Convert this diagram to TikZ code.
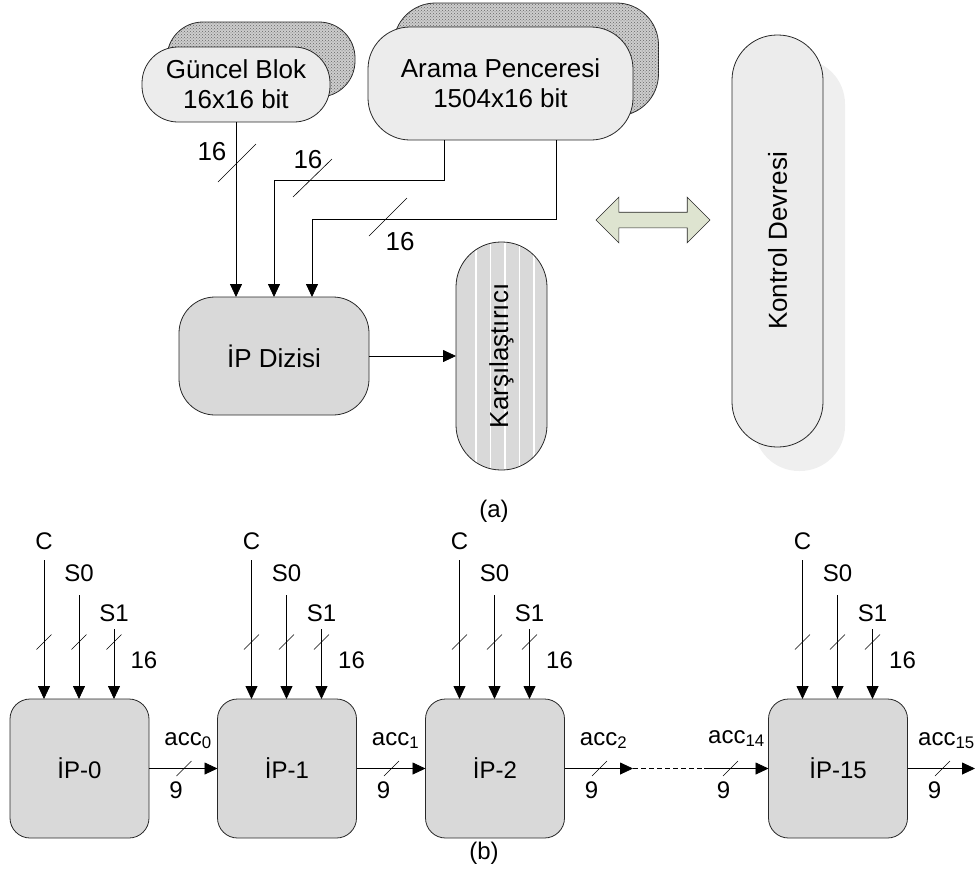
\documentclass[tikz,border=0pt]{standalone}
\usepackage{fontspec}
\setmainfont{Liberation Sans}
\usetikzlibrary{arrows.meta,patterns,calc,shapes.arrows}

\definecolor{paleFill}{RGB}{236,236,236}
\definecolor{boxFill}{RGB}{217,217,217}
\definecolor{shadowFill}{RGB}{205,205,205}
\definecolor{softShadow}{RGB}{239,239,239}
\definecolor{arrowGreen}{RGB}{222,228,208}
\definecolor{edge}{RGB}{40,40,40}

\begin{document}
\begin{tikzpicture}[x=1pt,y=-1pt,
  big/.style={font=\fontsize{26}{30}\selectfont},
  lbl/.style={font=\fontsize{24}{28}\selectfont},
  blob/.style={draw=edge,line width=0.8pt,inner sep=0pt,outer sep=0pt},
  dotted shadow/.style={blob,fill=shadowFill,postaction={pattern=crosshatch dots,pattern color=gray!80!black}},
  wire/.style={line width=0.8pt},
  arr/.style={wire,-{Triangle[length=13pt,width=12pt]}},
  bus/.style={line width=0.6pt},
  ipbox/.style={blob,fill=boxFill,rounded corners=20pt,minimum width=139pt,minimum height=139pt,lbl},
  txt/.style={inner sep=0pt}]

\useasboundingbox (0,0) rectangle (977,876);

% ---------- (a) memories, array, comparator, control ----------
\node[dotted shadow,rounded corners=36pt,minimum width=188pt,minimum height=75pt] (gbS) at (261,59.5) {};
\node[blob,fill=paleFill,rounded corners=36pt,minimum width=188pt,minimum height=75pt,align=center,big] (gb) at (236,84.5) {Güncel Blok\\16x16 bit};

\node[dotted shadow,rounded corners=42pt,minimum width=265pt,minimum height=113pt] (apS) at (526,59.5) {};
\node[blob,fill=paleFill,rounded corners=42pt,minimum width=265pt,minimum height=113pt,align=center,big] (ap) at (500.5,83.5) {Arama Penceresi\\1504x16 bit};

\node[blob,fill=boxFill,rounded corners=36pt,minimum width=190pt,minimum height=118pt,big] (ipd) at (274,356) {İP Dizisi};

\node[blob,fill=boxFill,rounded corners=45pt,minimum width=91pt,minimum height=228pt,
  path picture={
    \foreach \sx in {20,34.5,49,63.5,78}
      \draw[white,line width=1.4pt] ($(path picture bounding box.north west)+(\sx,0)$) -- ($(path picture bounding box.south west)+(\sx,0)$);
  }] (kr) at (501.5,356) {};
\node[txt,rotate=90,big] (krText) at (kr.center) {Karşılaştırıcı};

\node[fill=softShadow,rounded corners=45pt,minimum width=91pt,minimum height=412pt,inner sep=0pt] (kdS) at (799.5,265) {};
\node[blob,fill=paleFill,rounded corners=45pt,minimum width=91pt,minimum height=412pt] (kd) at (777.5,241) {};
\node[txt,rotate=90,big] (kdText) at (kd.center) {Kontrol Devresi};

\node[double arrow,draw=edge,line width=0.6pt,fill=arrowGreen,inner xsep=0pt,inner ysep=7.5pt,
  double arrow head extend=15pt,double arrow tip angle=90,minimum height=114pt] (link) at (653,220) {};

% buses into the array
\draw[arr] (gb.south) -- (gb.south |- ipd.north);
\draw[arr] ($(ap.south)+(-56.5,0)$) -- ++(0,40) -| (ipd.north);
\draw[arr] ($(ap.south)+(55.5,0)$) -- ++(0,79) -| ($(ipd.north)+(38,0)$);
\draw[arr] (ipd.east) -- (kr.west);

% bus width marks
\draw[bus] (218,182) -- (256,144);
\node[txt,big] (w1) at (212,152) {16};
\draw[bus] (293,197) -- (332,159);
\node[txt,big] (w2) at (308,160) {16};
\draw[bus] (369,236) -- (407,198);
\node[txt,big] (w3) at (400,242) {16};

\node[txt,lbl] (capA) at (494,511) {(a)};

% ---------- (b) processing element chain ----------
\node[ipbox] (ip0)  at (79.5,768.5) {İP-0};
\node[ipbox] (ip1)  at (287,768.5)  {İP-1};
\node[ipbox] (ip2)  at (495,768.5)  {İP-2};
\node[ipbox] (ip15) at (838,768.5)  {İP-15};

\foreach \b in {ip0,ip1,ip2,ip15} {
  \coordinate (\b-c)  at ($(\b.north west)+(34,-139)$);
  \coordinate (\b-s0) at ($(\b.north west)+(69,-104)$);
  \coordinate (\b-s1) at ($(\b.north west)+(104,-70)$);
  \draw[arr] (\b-c)  -- ($(\b.north west)+(34,0)$);
  \draw[arr] (\b-s0) -- ($(\b.north west)+(69,0)$);
  \draw[arr] (\b-s1) -- ($(\b.north west)+(104,0)$);
  \node[txt,lbl] at ($(\b.north west)+(34,-158)$) {C};
  \node[txt,lbl] at ($(\b.north west)+(69,-126)$) {S0};
  \node[txt,lbl] at ($(\b.north west)+(104,-86)$) {S1};
  \foreach \dx in {34,69,104}
    \draw[bus] ($(\b.north west)+(\dx-7.5,-49.5)$) -- ($(\b.north west)+(\dx+7.5,-64.5)$);
  \node[txt,lbl] at ($(\b.north west)+(134,-39)$) {16};
}

\coordinate (dotsStart) at (633,768.5);
\coordinate (dotsEnd) at (704,768.5);
\coordinate (out15) at (975,768.5);

\draw[arr] (ip0.east) -- (ip1.west);
\draw[arr] (ip1.east) -- (ip2.west);
\draw[arr] (ip2.east) -- (dotsStart);
\draw[wire,dash pattern=on 5pt off 3pt] (dotsStart) -- (dotsEnd);
\draw[arr] (dotsEnd) -- (ip15.west);
\draw[arr] (ip15.east) -- (out15);

\foreach \b/\k in {ip0/0,ip1/1,ip2/2,ip15/15} {
  \draw[bus] ($(\b.east)+(27.5,7.5)$) -- ($(\b.east)+(42.5,-7.5)$);
  \node[txt,lbl] at ($(\b.east)+(39,-28)$) {acc\textsubscript{\k}};
  \node[txt,lbl] at ($(\b.east)+(27,22)$) {9};
}
\draw[bus] ($(ip15.west)+(-45.5,7.5)$) -- ($(ip15.west)+(-30.5,-7.5)$);
\node[txt,lbl] (acc14) at ($(ip15.west)+(-32,-30)$) {acc\textsubscript{14}};
\node[txt,lbl] (nine14) at ($(ip15.west)+(-45,22)$) {9};

\node[txt,lbl] (capB) at (484,853) {(b)};
\end{tikzpicture}
\end{document}
